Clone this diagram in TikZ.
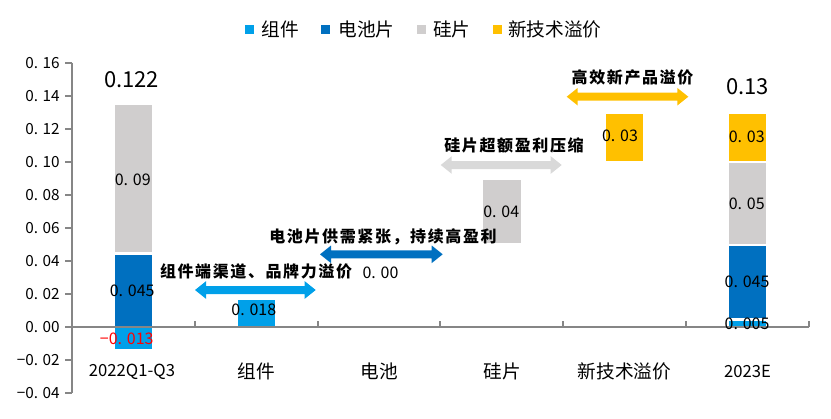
\documentclass[tikz,border=0pt]{standalone}
\usepackage{fontspec}
\setmainfont{Noto Sans CJK SC}
\newfontfamily\annofont[LetterSpace=10]{Noto Sans CJK SC}
\usetikzlibrary{calc}
\definecolor{cA}{HTML}{00A0E9}
\definecolor{cB}{HTML}{0070C0}
\definecolor{cG}{HTML}{D0CECE}
\definecolor{cY}{HTML}{FFC000}
\definecolor{axisg}{HTML}{868686}
\definecolor{arrG}{HTML}{D9D9D9}
\newcommand\dn[2]{#1.\kern0.3em#2}
\newcommand\blockarrow[3]{%
  \fill[#3] let \p1=(#1), \p2=(#2) in
    (\x1,\y1) -- ++(11,-8.8) -- ++(0,4.8) -- ($(\x2,\y2)+(-11,-4)$) -- ++(0,-4.8)
    -- (\x2,\y2) -- ++(-11,8.8) -- ++(0,-4.8) -- ($(\x1,\y1)+(11,4)$) -- ++(0,4.8) -- cycle;}
\begin{document}
\begin{tikzpicture}[x=0.75pt,y=-0.75pt,
  ylab/.style={anchor=east,inner sep=0,font=\fontsize{11.5}{13}\selectfont},
  dlab/.style={inner sep=0,font=\fontsize{12}{14}\selectfont},
  clab/.style={inner sep=0,font=\fontsize{14}{16}\selectfont},
  clat/.style={inner sep=0,font=\fontsize{12.5}{15}\selectfont},
  legtxt/.style={anchor=west,inner sep=0,font=\fontsize{14}{16}\selectfont},
  legsq/.style={inner sep=0,minimum size=6.6pt},
  annot/.style={inner sep=0,font=\annofont\bfseries\fontsize{12}{14}\selectfont},
  tot/.style={inner sep=0,font=\fontsize{16.5}{18}\selectfont},
  axl/.style={draw=axisg,line width=1.5pt}]
\useasboundingbox (0,0) rectangle (831,418);
% legend
\node[legsq,fill=cA] (lq1) at (249.2,29.5) {};
\node[legtxt] (lt1) at (261.7,29.5) {组件};
\node[legsq,fill=cB] (lq2) at (325.5,29.5) {};
\node[legtxt] (lt2) at (338.3,29.5) {电池片};
\node[legsq,fill=cG] (lq3) at (421.5,29.5) {};
\node[legtxt] (lt3) at (433,29.5) {硅片};
\node[legsq,fill=cY] (lq4) at (497.2,29.5) {};
\node[legtxt] (lt4) at (508,29.5) {新技术溢价};
% bars
\fill[cG] (115,105) rectangle (152,252.3);
\fill[cB] (115,255) rectangle (152,327.3);
\fill[cA] (115,327.3) rectangle (152,348.7);
\fill[cA] (237.7,300) rectangle (275,327.3);
\fill[cG] (482.7,180) rectangle (521,243);
\fill[cY] (605.7,114) rectangle (642.7,160.7);
\fill[cY] (729,114) rectangle (766,160.7);
\fill[cG] (729,163.3) rectangle (766,243.7);
\fill[cB] (729,246) rectangle (766,318.3);
\fill[cA] (729,320.7) rectangle (766,327.3);
% axes
\draw[axl] (72,62.7) -- (72,393.4);
\foreach \v/\t [count=\i] in {0.16/\dn{0}{16},0.14/\dn{0}{14},0.12/\dn{0}{12},0.10/\dn{0}{10},0.08/\dn{0}{08},0.06/\dn{0}{06},0.04/\dn{0}{04},0.02/\dn{0}{02},0.00/\dn{0}{00},-0.02/\dn{−0}{02},-0.04/\dn{−0}{04}}{
  \draw[axl] (65,{327.3-\v*1653.5}) -- (72,{327.3-\v*1653.5});
  \node[ylab] (yl\i) at (60,{327.3-\v*1653.5}) {\t};
}
\draw[axl] (72,327.3) -- (809,327.3);
\foreach \xx in {194.8,317.6,440.4,563.2,686,808.8}
  \draw[axl] (\xx,321) -- (\xx,327.3);
% category labels
\node[clat] (c1) at (132,371.7) {2022Q1-Q3};
\node[clab] (c2) at (256,371.7) {组件};
\node[clab] (c3) at (379,371.7) {电池};
\node[clab] (c4) at (502,371.7) {硅片};
\node[clab] (c5) at (624.5,371.7) {新技术溢价};
\node[clat] (c6) at (747.5,371.7) {2023E};
% data labels
\node[tot] (t1) at (131.7,79.3) {0.122};
\node[tot] (t2) at (747.7,86.7) {0.13};
\node[dlab] (d1) at (132.8,179.3) {\dn{0}{09}};
\node[dlab] (d2) at (132.2,290.7) {\dn{0}{045}};
\node[dlab,text=red] (d3) at (126.7,339) {\dn{−0}{013}};
\node[dlab] (d4) at (253.8,309.3) {\dn{0}{018}};
\node[dlab] (d5) at (380.5,272.5) {\dn{0}{00}};
\node[dlab] (d6) at (501.3,212) {\dn{0}{04}};
\node[dlab] (d7) at (620,135.7) {\dn{0}{03}};
\node[dlab] (d8) at (746.8,136.7) {\dn{0}{03}};
\node[dlab] (d9) at (746.8,203.3) {\dn{0}{05}};
\node[dlab] (d10) at (747,281.7) {\dn{0}{045}};
\node[dlab] (d11) at (747,323.3) {\dn{0}{005}};
% annotations
\node[annot] (n1) at (256,271.7) {组件端渠道、品牌力溢价};
\node[annot] (n2) at (383,236.7) {电池片供需紧张，持续高盈利};
\node[annot] (n3) at (514,145) {硅片超额盈利压缩};
\node[annot] (n4) at (632.5,77.3) {高效新产品溢价};
\coordinate (a1l) at (195,290);   \coordinate (a1r) at (315.7,290);
\coordinate (a2l) at (320,254.3); \coordinate (a2r) at (442.7,254.3);
\coordinate (a3l) at (440.7,165); \coordinate (a3r) at (561.7,165);
\coordinate (a4l) at (566.7,96.7);\coordinate (a4r) at (688.3,96.7);
\blockarrow{a1l}{a1r}{cA}
\blockarrow{a2l}{a2r}{cB}
\blockarrow{a3l}{a3r}{arrG}
\blockarrow{a4l}{a4r}{cY}
\end{tikzpicture}
\end{document}
